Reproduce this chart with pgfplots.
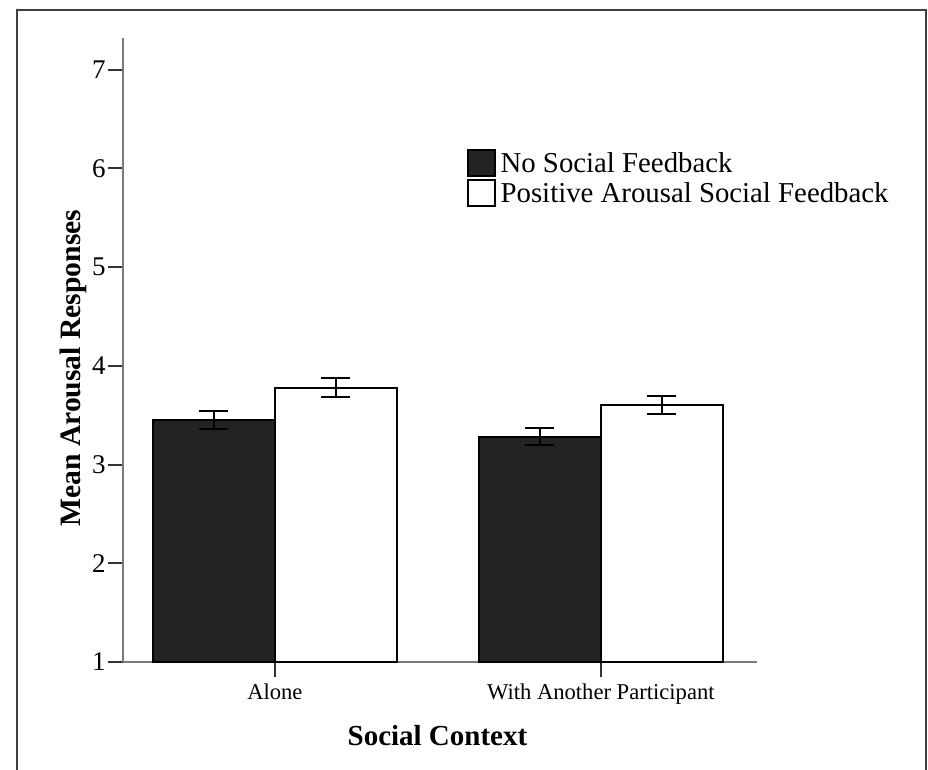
\documentclass[border=0pt]{standalone}
\usepackage{pgfplots}
\pgfplotsset{compat=1.18}
\usepackage{fontspec}
\setmainfont{Liberation Serif}
\definecolor{barblack}{HTML}{232323}
\definecolor{axgray}{HTML}{7A7A7A}
\begin{document}
\begin{tikzpicture}
\path[use as bounding box] (0,0) rectangle (464pt,-385pt);
\draw[line width=1.3pt, black!75] (8.5pt,-390pt) -- (8.5pt,-5pt) -- (463pt,-5pt) -- (463pt,-390pt);
\begin{axis}[
  at={(61.5pt,-331pt)}, anchor=south west,
  scale only axis, width=317pt, height=312pt,
  xmin=-0.466, xmax=1.479, ymin=1, ymax=7.32,
  axis lines*=left,
  axis line style={axgray, line width=1pt},
  ytick={1,2,3,4,5,6,7},
  xtick={0,1}, xticklabels={Alone, With Another Participant},
  tick align=outside, major tick length=7.5pt,
  tick style={black!80, line width=1pt},
  /pgf/number format/assume math mode=true,
  yticklabel style={font=\fontsize{13.5}{15}\selectfont, inner xsep=1pt},
  xticklabel style={font=\fontsize{11.3}{13}\selectfont},
  xlabel={\textbf{Social Context}},
  ylabel={\textbf{Mean Arousal Responses}},
  xlabel style={font=\fontsize{14.5}{16}\selectfont, at={(axis description cs:0.496,0)}, anchor=center, yshift=-37pt},
  ylabel style={font=\fontsize{14.8}{16}\selectfont, at={(axis description cs:-0.079,0.471)}, anchor=center},
  ybar, bar width=0.374,
  legend style={draw=none, fill=none, at={(0.542,0.822)}, anchor=north west, inner sep=0pt, outer sep=0pt,
    font=\fontsize{14.4}{16}\selectfont, row sep=1pt, nodes={inner ysep=0pt, inner xsep=2.5pt}},
  legend cell align=left,
  legend image code/.code={\draw[#1, line width=1pt] (0pt,-6pt) rectangle (13.5pt,7pt);},
]
\addplot[ybar, bar shift=-0.187, fill=barblack, draw=black, line width=1pt,
  error bars/.cd, y dir=both, y explicit,
  error bar style={line width=1pt, black},
  error mark options={rotate=90, line width=1pt, black, mark size=7.25pt}]
  coordinates {(0,3.45) +- (0,0.09) (1,3.28) +- (0,0.085)};
\addplot[ybar, bar shift=0.187, fill=white, draw=black, line width=1pt,
  error bars/.cd, y dir=both, y explicit,
  error bar style={line width=1pt, black},
  error mark options={rotate=90, line width=1pt, black, mark size=7.25pt}]
  coordinates {(0,3.78) +- (0,0.10) (1,3.60) +- (0,0.09)};
\legend{No Social Feedback, Positive Arousal Social Feedback}
\end{axis}
\end{tikzpicture}
\end{document}
